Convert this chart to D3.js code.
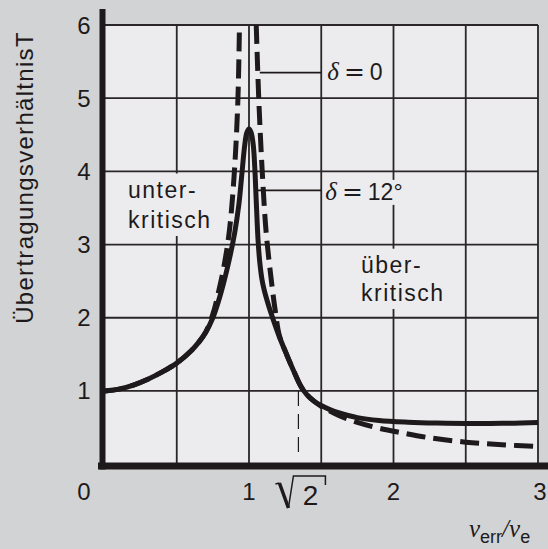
<!DOCTYPE html>
<html><head><meta charset="utf-8">
<script src="https://cdn.jsdelivr.net/npm/d3@7"></script>
<style>html,body{margin:0;padding:0;background:#d2d3d5;}svg{display:block}</style>
</head><body>
<script>
// ---------- data ----------
const xGrid = [0.5, 1, 1.5, 2, 2.5, 3];
const yGrid = [1, 2, 3, 4, 5, 6];
const yTickValues = [1, 2, 3, 4, 5, 6];
const xTickValues = [1, 2, 3];
const originLabel = "0";

// delta = 12° (solid)
const solidX = [0, 0.1, 0.2, 0.3, 0.4, 0.5, 0.6, 0.65, 0.7, 0.75, 0.8, 0.85, 0.9, 0.93, 0.95, 0.97, 0.985, 1.0, 1.015, 1.03, 1.04, 1.05, 1.063, 1.075, 1.09, 1.105, 1.135, 1.17, 1.21, 1.26, 1.31, 1.36, 1.40, 1.45, 1.5, 1.56, 1.625, 1.75, 1.9, 2.1, 2.3, 2.5, 2.75, 3.0];
const solidT = [1.0, 1.025, 1.08, 1.16, 1.26, 1.38, 1.55, 1.66, 1.80, 2.0, 2.3, 2.68, 3.15, 3.55, 3.95, 4.35, 4.53, 4.58, 4.53, 4.35, 4.05, 3.6, 3.05, 2.75, 2.52, 2.38, 2.17, 1.96, 1.74, 1.50, 1.27, 1.06, 0.95, 0.86, 0.80, 0.745, 0.70, 0.635, 0.595, 0.572, 0.56, 0.555, 0.557, 0.57];

// delta = 0 (dashed), two branches
const dashLeftX = [0, 0.1, 0.2, 0.3, 0.4, 0.5, 0.6, 0.65, 0.7, 0.75, 0.79, 0.83, 0.865, 0.899, 0.923, 0.934];
const dashLeftT = [1.0, 1.025, 1.08, 1.16, 1.26, 1.38, 1.55, 1.66, 1.80, 2.05, 2.36, 2.74, 3.2, 4.0, 4.97, 6.0];
const dashRightX = [1.05, 1.068, 1.091, 1.119, 1.157, 1.185, 1.21, 1.26, 1.31, 1.36, 1.40, 1.45, 1.5, 1.625, 1.75, 1.9, 2.05, 2.25, 2.5, 2.75, 3.0];
const dashRightT = [6.0, 4.97, 4.02, 3.16, 2.47, 2.05, 1.76, 1.50, 1.27, 1.06, 0.95, 0.86, 0.79, 0.66, 0.57, 0.49, 0.43, 0.36, 0.30, 0.265, 0.24];

// sqrt(2) marker (position as drawn)
const markerX = 1.342;
const markerTop = 1.0, markerBottom = 0.15;

// leader lines  [xStart, xEnd, T]
const leader0 = [1.075, 1.5, 5.35];
const leader12 = [1.06, 1.5, 3.74];

// ---------- drawing ----------
const W = 548, H = 549;
const x = d3.scaleLinear().domain([0, 3]).range([104.5, 538]);
const y = d3.scaleLinear().domain([0, 6]).range([464.1, 25]);
const ink = "#1e1a1b";
const inner = "#ececee";

const svg = d3.select("body").append("svg").attr("width", W).attr("height", H);
svg.append("rect").attr("width", W).attr("height", H).attr("fill", "#d2d3d5");
svg.append("rect").attr("x", x(0)).attr("y", y(6)).attr("width", x(3) - x(0)).attr("height", y(0) - y(6)).attr("fill", inner);

// grid
const g = svg.append("g").attr("stroke", "#2a2627").attr("stroke-width", 1.8);
g.selectAll(".vx").data(xGrid).join("line")
  .attr("x1", d => x(d)).attr("x2", d => x(d)).attr("y1", y(0)).attr("y2", y(6));
g.selectAll(".hy").data(yGrid).join("line")
  .attr("y1", d => y(d)).attr("y2", d => y(d)).attr("x1", x(0)).attr("x2", x(3));

// sqrt2 guide
svg.append("line").attr("x1", x(markerX)).attr("x2", x(markerX))
  .attr("y1", y(markerTop)).attr("y2", y(markerBottom))
  .attr("stroke", ink).attr("stroke-width", 1.2).attr("stroke-dasharray", "15,8");

// leaders
[leader0, leader12].forEach(l => {
  svg.append("line").attr("x1", x(l[0])).attr("x2", x(l[1])).attr("y1", y(l[2])).attr("y2", y(l[2]))
    .attr("stroke", ink).attr("stroke-width", 1.8);
});

// text blocks with masks
function block(lines, xPos, baselines, size, ls, pad) {
  const grp = svg.append("g");
  const rect = grp.append("rect").attr("fill", inner);
  const t = grp.append("text").attr("font-family", "Liberation Sans, Arial, sans-serif")
    .attr("font-size", size).attr("letter-spacing", ls).attr("fill", ink);
  lines.forEach((s, i) => t.append("tspan").attr("x", xPos).attr("y", baselines[i]).text(s));
  const bb = t.node().getBBox();
  rect.attr("x", bb.x - pad).attr("y", bb.y - pad + 2).attr("width", bb.width + 2 * pad).attr("height", bb.height + 2 * pad - 4);
}
block(["unter-", "kritisch"], 128, [197.5, 228], 23, 1.5, 5);
block(["über-", "kritisch"], 361, [272.7, 301], 23, 1.5, 5);

// delta labels
function deltaLabel(xPos, base, rest) {
  const grp = svg.append("g");
  const rect = grp.append("rect").attr("fill", inner);
  const t = grp.append("text").attr("x", xPos).attr("y", base).attr("fill", ink);
  t.append("tspan").attr("font-family", "Liberation Serif, serif").attr("font-style", "italic").attr("font-size", 25).text("δ");
  t.append("tspan").attr("dx", 5).attr("font-family", "DejaVu Sans, sans-serif").attr("font-size", 25).text("=");
  t.append("tspan").attr("dx", 5).attr("font-family", "Liberation Sans, Arial, sans-serif").attr("font-size", 23).text(rest);
  const bb = t.node().getBBox();
  rect.attr("x", bb.x - 2).attr("y", bb.y + 3).attr("width", bb.width + 4).attr("height", bb.height - 4);
}
deltaLabel(x(1.5) + 6, y(leader0[2]) + 7.5, "0");
deltaLabel(x(1.5) + 4, y(leader12[2]) + 9.5, "12°");

// curves
const line = d3.line().x(d => x(d[0])).y(d => y(d[1])).curve(d3.curveCatmullRom.alpha(0.5));
const zip = (a, b) => a.map((v, i) => [v, b[i]]);
svg.append("path").attr("d", line(zip(dashLeftX, dashLeftT))).attr("fill", "none")
  .attr("stroke", ink).attr("stroke-width", 5).attr("stroke-dasharray", "19,8");
svg.append("path").attr("d", line(zip(dashRightX, dashRightT))).attr("fill", "none")
  .attr("stroke", ink).attr("stroke-width", 5).attr("stroke-dasharray", "19,8");
svg.append("path").attr("d", line(zip(solidX, solidT))).attr("fill", "none")
  .attr("stroke", ink).attr("stroke-width", 5).attr("stroke-linejoin", "round");

// axes (thick)
svg.append("line").attr("x1", x(0) - 2).attr("x2", x(0) - 2).attr("y1", 9).attr("y2", y(0) + 5.5)
  .attr("stroke", ink).attr("stroke-width", 6);
svg.append("line").attr("x1", 98).attr("x2", W).attr("y1", y(0) + 2).attr("y2", y(0) + 2)
  .attr("stroke", ink).attr("stroke-width", 7);

// tick labels
const tf = "Liberation Sans, Arial, sans-serif";
svg.selectAll(".yl").data(yTickValues).join("text")
  .attr("x", 84).attr("y", d => y(d) + 8.5).attr("text-anchor", "middle")
  .attr("font-family", tf).attr("font-size", 24).attr("fill", ink).text(d => d);
svg.append("text").attr("x", 84).attr("y", 499.5).attr("text-anchor", "middle")
  .attr("font-family", tf).attr("font-size", 24).attr("fill", ink).text(originLabel);
svg.selectAll(".xl").data(xTickValues).join("text")
  .attr("x", d => x(d) + (d === 3 ? 2 : 0)).attr("y", 499.5).attr("text-anchor", "middle")
  .attr("font-family", tf).attr("font-size", 24).attr("fill", ink).text(d => d);

// sqrt2 label
const mx = x(markerX);
svg.append("path").attr("d", `M${mx - 23},${484} L${mx - 19},${483}`)
  .attr("stroke", ink).attr("stroke-width", 1.5).attr("fill", "none");
svg.append("path").attr("d", `M${mx - 19},${483} L${mx - 10},${508}`)
  .attr("stroke", ink).attr("stroke-width", 3.5).attr("fill", "none");
svg.append("path").attr("d", `M${mx - 10},${508} L${mx - 5},${476} L${mx + 27},${476} L${mx + 27},${485}`)
  .attr("stroke", ink).attr("stroke-width", 1.5).attr("fill", "none");
svg.append("text").attr("x", mx + 12).attr("y", 505).attr("text-anchor", "middle")
  .attr("font-family", tf).attr("font-size", 28).attr("fill", ink).text("2");

// axis titles
svg.append("text").attr("transform", "translate(33,177.5) rotate(-90)").attr("text-anchor", "middle")
  .attr("font-family", tf).attr("font-size", 24).attr("letter-spacing", 1.3).attr("fill", ink)
  .text("ÜbertragungsverhältnisT");

const xt = svg.append("text").attr("x", 469).attr("y", 537).attr("fill", ink);
xt.append("tspan").attr("font-family", "Liberation Serif, serif").attr("font-style", "italic").attr("font-size", 25).text("ν");
xt.append("tspan").attr("dy", 6).attr("font-family", tf).attr("font-size", 18).text("err");
xt.append("tspan").attr("dy", -6).attr("font-family", "Liberation Serif, serif").attr("font-style", "italic").attr("font-size", 25).text("/ν");
xt.append("tspan").attr("dy", 6).attr("font-family", tf).attr("font-size", 18).text("e");
</script>
</body></html>
